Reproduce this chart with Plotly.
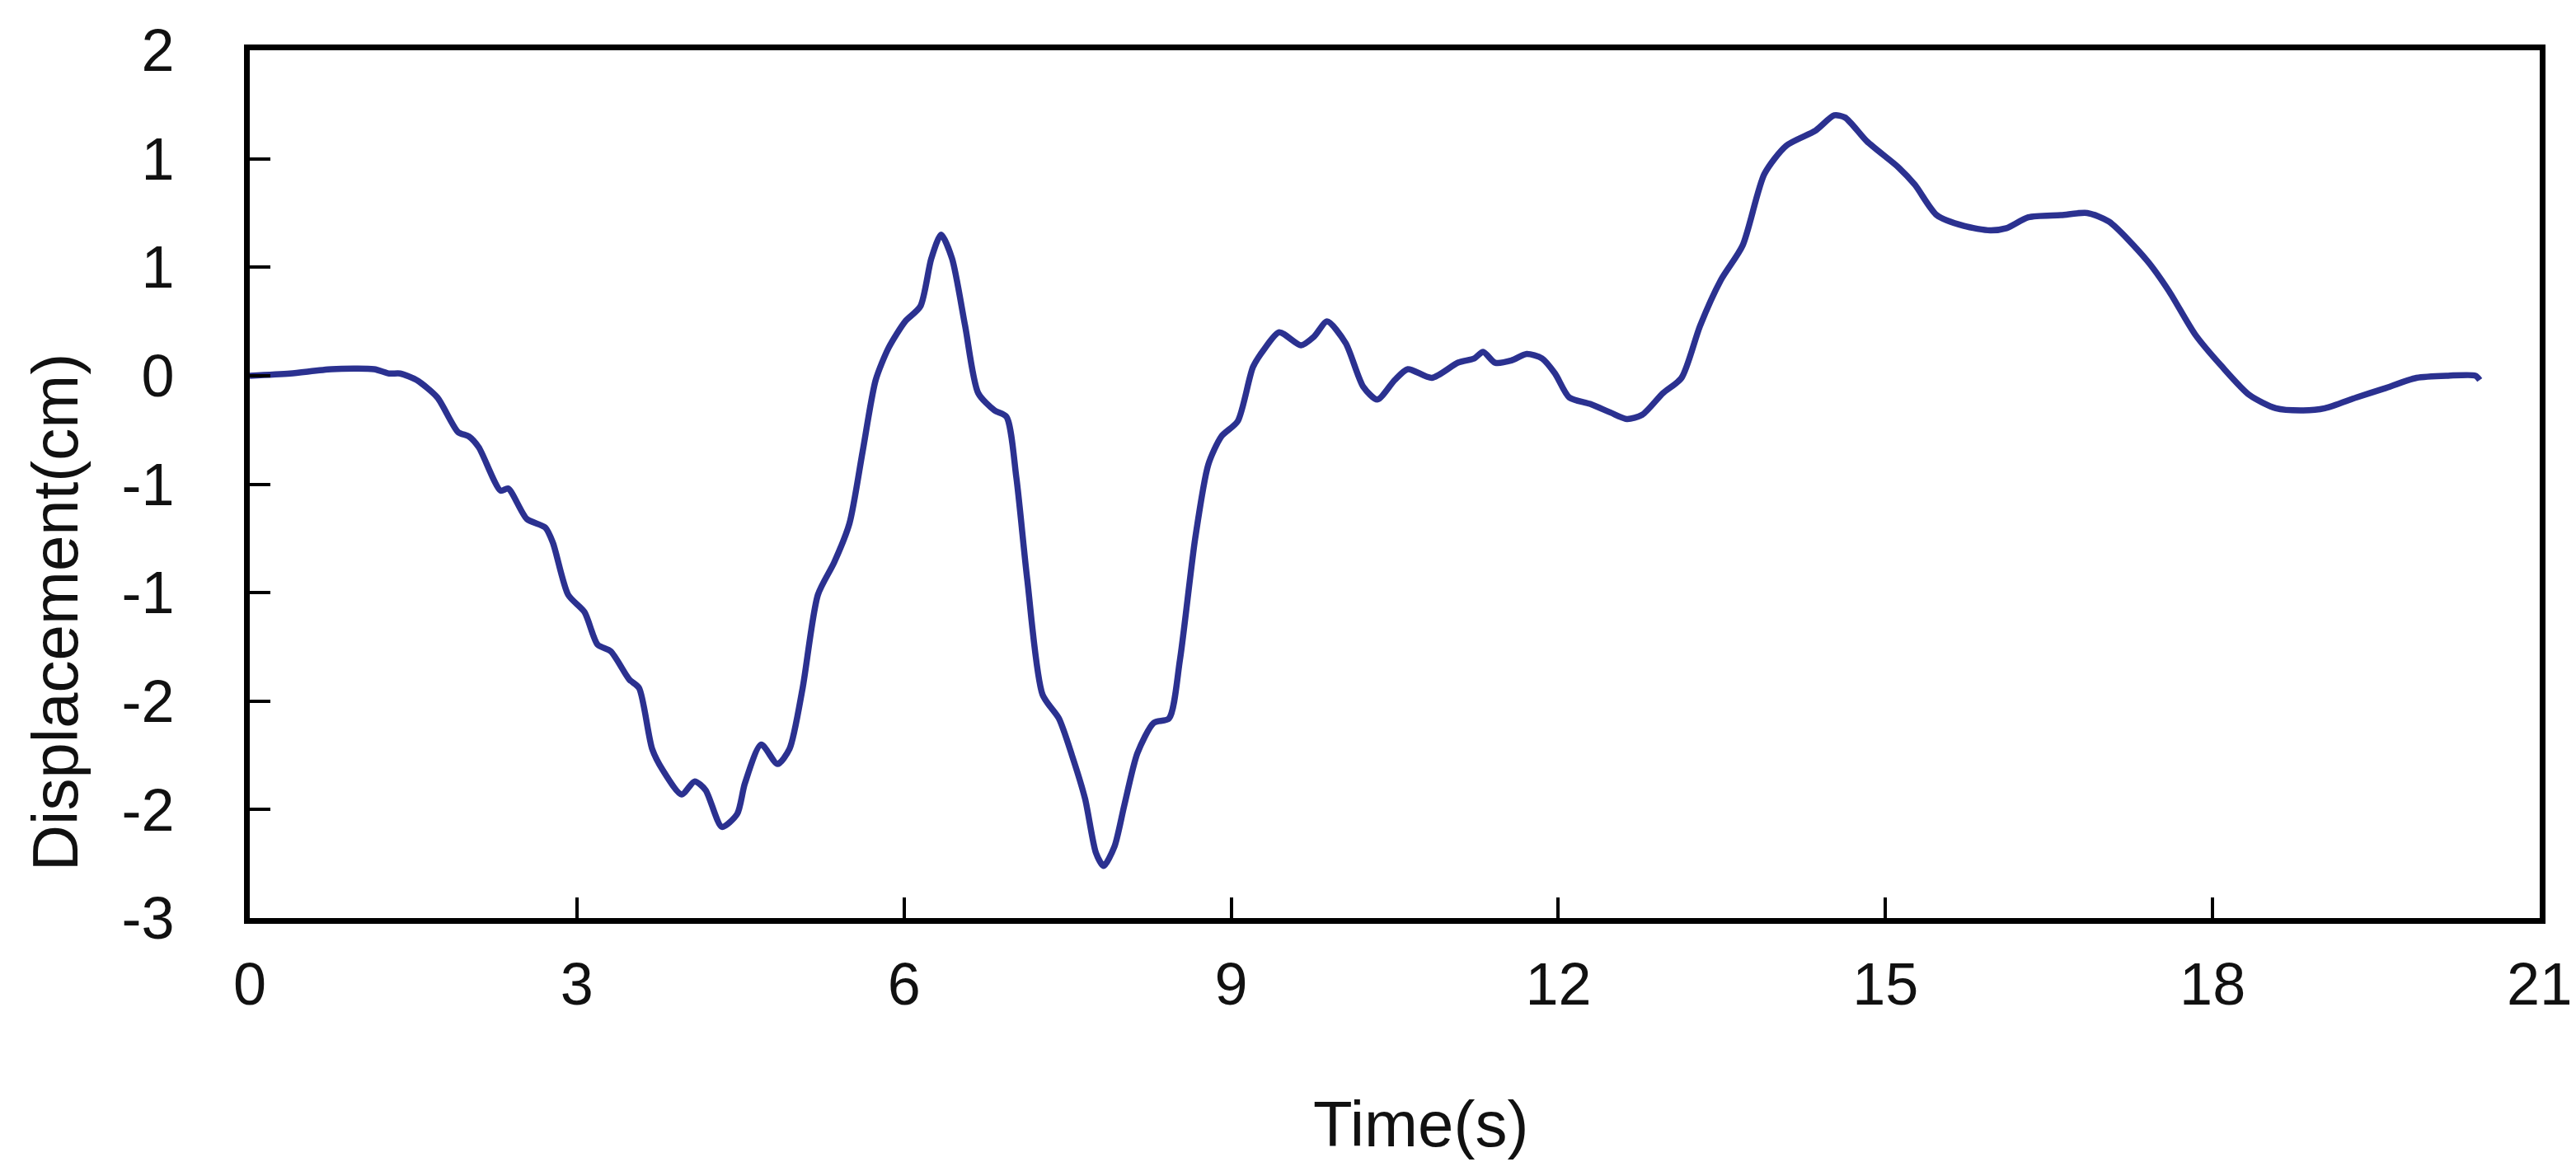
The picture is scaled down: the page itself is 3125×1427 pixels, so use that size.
import plotly.graph_objects as go

# time (s) and displacement (cm)
time_s = [0, 0.37, 0.75, 1.14, 1.28, 1.38, 1.53, 1.72, 1.91, 2.01,
          2.10, 2.30, 2.37, 2.54, 2.71, 2.78, 2.92, 3.07, 3.19, 3.31,
          3.48, 3.57, 3.69, 3.79, 3.96, 4.08, 4.18, 4.33, 4.47, 4.54,
          4.69, 4.84, 4.95, 5.07, 5.21, 5.36, 5.50, 5.62, 5.74, 5.86,
          6.01, 6.15, 6.25, 6.34, 6.44, 6.56, 6.68, 6.83, 6.94, 7.03,
          7.13, 7.27, 7.42, 7.54, 7.66, 7.76, 7.83, 7.93, 8.02, 8.14,
          8.29, 8.43, 8.53, 8.67, 8.79, 8.91, 9.06, 9.20, 9.30, 9.44,
          9.64, 9.76, 9.88, 10.05, 10.21, 10.34, 10.50, 10.62, 10.84, 11.08,
          11.23, 11.31, 11.42, 11.57, 11.71, 11.85, 11.97, 12.10, 12.29, 12.48,
          12.63, 12.77, 12.96, 13.13, 13.30, 13.49, 13.69, 13.89, 14.09, 14.36,
          14.53, 14.63, 14.83, 15.12, 15.27, 15.47, 15.72, 15.96, 16.11, 16.31,
          16.61, 16.85, 17.05, 17.40, 17.60, 17.84, 18.09, 18.34, 18.58, 18.83,
          19.03, 19.32, 19.57, 19.87, 20.16, 20.41, 20.45]

displacement = [0, 0.01, 0.03, 0.03, 0.01, 0.01, -0.02, -0.10, -0.26, -0.28,
                -0.33, -0.53, -0.52, -0.66, -0.70, -0.77, -1.01, -1.09, -1.24, -1.27,
                -1.40, -1.44, -1.72, -1.82, -1.93, -1.87, -1.91, -2.08, -2.02, -1.88,
                -1.70, -1.79, -1.72, -1.44, -1.01, -0.86, -0.68, -0.35, -0.02, 0.13,
                0.25, 0.32, 0.54, 0.65, 0.54, 0.23, -0.08, -0.16, -0.19, -0.47,
                -0.94, -1.47, -1.58, -1.75, -1.95, -2.20, -2.26, -2.17, -1.98, -1.74,
                -1.60, -1.58, -1.31, -0.75, -0.41, -0.28, -0.21, 0.04, 0.12, 0.20,
                0.14, 0.18, 0.25, 0.15, -0.05, -0.11, -0.02, 0.03, -0.01, 0.06,
                0.08, 0.11, 0.06, 0.07, 0.10, 0.08, 0.01, -0.10, -0.13, -0.17,
                -0.20, -0.18, -0.08, -0.01, 0.23, 0.44, 0.60, 0.93, 1.06, 1.13,
                1.20, 1.19, 1.08, 0.96, 0.88, 0.74, 0.69, 0.67, 0.68, 0.73,
                0.74, 0.75, 0.71, 0.53, 0.39, 0.19, 0.04, -0.09, -0.15, -0.16,
                -0.15, -0.10, -0.06, -0.01, 0.00, 0.00, -0.02]

x_ticks = [0, 3, 6, 9, 12, 15, 18, 21]
# the original axis steps by 0.5 but prints rounded integers
y_ticks = [-2.5, -2, -1.5, -1, -0.5, 0, 0.5, 1, 1.5]
y_labels = ["-3", "-2", "-2", "-1", "-1", "0", "1", "1", "2"]

font = "Liberation Sans, Arial, sans-serif"
ink = "#111111"

fig = go.Figure()
fig.add_trace(go.Scatter(x=time_s, y=displacement,
                         mode="lines",
                         line=dict(color="#2B3190", width=7.5, shape="spline", smoothing=0.7),
                         showlegend=False))

axis_common = dict(showline=True, linecolor="black", linewidth=7, mirror=True,
                   showgrid=False, zeroline=False,
                   ticks="inside", ticklen=25, tickwidth=4, tickcolor="black",
                   tickfont=dict(family=font, size=72, color=ink))

fig.update_xaxes(range=[0, 21], tickvals=x_ticks, ticklabelstandoff=12, **axis_common)
fig.update_yaxes(range=[-2.5, 1.5], tickvals=y_ticks, ticktext=y_labels, ticklabelstandoff=70,
                 **axis_common)

# axis titles placed as in the source (y title sits below the middle)
fig.add_annotation(text="Time(s)", xref="paper", yref="paper", x=0.5115, y=-0.237,
                   xanchor="center", yanchor="middle", showarrow=False,
                   font=dict(family=font, size=78, color=ink))
fig.add_annotation(text="Displacement(cm)", xref="paper", yref="paper", x=-0.085, y=0.352,
                   xanchor="center", yanchor="middle", textangle=-90, showarrow=False,
                   font=dict(family=font, size=78, color=ink))

fig.update_layout(width=3125, height=1427,
                  margin=dict(l=295, r=52, t=53, b=321),
                  plot_bgcolor="white", paper_bgcolor="white")

fig.write_html("out.html")
